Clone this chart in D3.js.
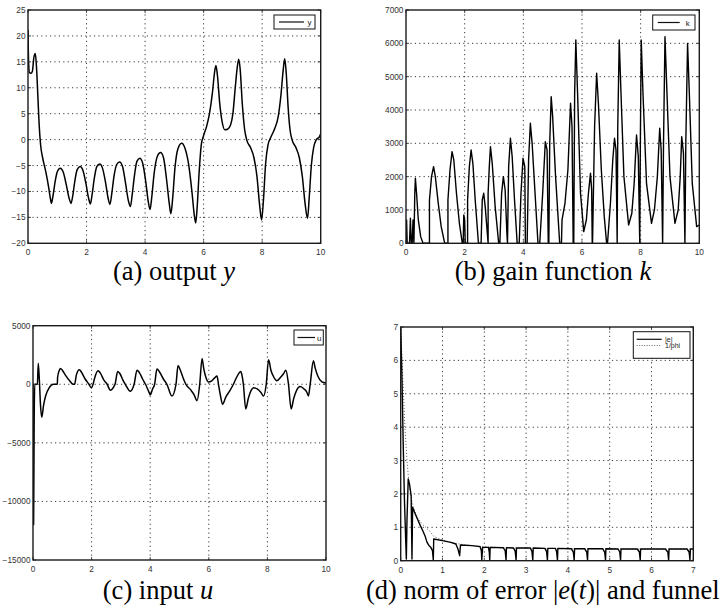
<!DOCTYPE html>
<html><head><meta charset="utf-8">
<script src="https://cdn.jsdelivr.net/npm/d3@7"></script>
<style>
body{margin:0;background:#fff;}
svg{display:block;}
.tick-lbl{font-family:"Liberation Sans",Arial,sans-serif;font-size:8.3px;fill:#333;}
.cap{font-family:"Liberation Serif","Times New Roman",serif;font-size:26.5px;fill:#000;}
.leg{font-family:"Liberation Sans",Arial,sans-serif;font-size:8px;fill:#222;}
.leg-sm{font-family:"Liberation Sans",Arial,sans-serif;font-size:7px;fill:#222;}
</style>
</head><body>
<script>
// ---------- DATA ----------
const xTicksA = [0,2,4,6,8,10];
const yTicksA = [-20,-15,-10,-5,0,5,10,15,20,25];
const yTicksB = [0,1000,2000,3000,4000,5000,6000,7000];
const yTicksC = [-15000,-10000,-5000,0,5000];
const xTicksD = [0,1,2,3,4,5,6,7];
const yTicksD = [0,1,2,3,4,5,6,7];

// (a) output y : [t, y]
const outputY = [[0,21.2],[0.02,15],[0.05,12.9],[0.1,12.8],[0.15,13.2],[0.2,15.8],[0.25,16.6],[0.29,14],[0.34,8],[0.38,3],[0.43,-1],[0.5,-3.5],[0.6,-6],[0.7,-9],[0.76,-11.2],[0.8,-12.3],[0.85,-11],[0.93,-8],[1.0,-6.2],[1.1,-5.5],[1.2,-6.2],[1.3,-8.5],[1.4,-11.2],[1.47,-12.3],[1.53,-10.8],[1.6,-8],[1.68,-5.8],[1.78,-5.2],[1.88,-6],[1.98,-8.5],[2.07,-11.3],[2.13,-12.4],[2.19,-10.6],[2.27,-7.3],[2.35,-5.2],[2.45,-4.7],[2.55,-5.6],[2.65,-8.3],[2.74,-11.4],[2.8,-12.5],[2.86,-10.5],[2.94,-7],[3.03,-4.8],[3.13,-4.3],[3.23,-5.2],[3.33,-8.3],[3.43,-11.8],[3.5,-12.9],[3.56,-10.6],[3.64,-6.8],[3.72,-4.2],[3.82,-3.6],[3.92,-4.6],[4.02,-8],[4.11,-12],[4.17,-13.5],[4.23,-11],[4.31,-6.5],[4.42,-3.2],[4.53,-2.5],[4.63,-3.5],[4.73,-7.5],[4.83,-12.5],[4.88,-14.3],[4.94,-11.5],[5.02,-5.5],[5.12,-1.8],[5.25,-0.7],[5.36,-1.6],[5.48,-4.5],[5.6,-10],[5.68,-14.5],[5.73,-16.1],[5.78,-13],[5.85,-6],[5.92,-1],[6.0,0.8],[6.1,2.5],[6.2,5],[6.3,9],[6.37,12.8],[6.42,14.3],[6.47,12.5],[6.55,7],[6.63,3.5],[6.72,1.9],[6.82,2],[6.92,2.8],[7.0,5],[7.08,10],[7.15,14],[7.2,15.5],[7.25,13.5],[7.32,7],[7.4,2],[7.48,-0.2],[7.6,-1.5],[7.72,-3.5],[7.82,-7],[7.92,-13],[7.98,-15.5],[8.04,-12],[8.12,-4.5],[8.2,-1],[8.3,0.5],[8.42,2],[8.55,4.5],[8.64,8.5],[8.72,13.5],[8.77,15.6],[8.82,13],[8.89,6],[8.95,2],[9.02,0],[9.15,-1.5],[9.27,-3.5],[9.37,-7],[9.47,-12.5],[9.55,-15.2],[9.61,-11],[9.68,-5],[9.76,-1.5],[9.85,0],[9.95,0.5],[10,1.1]];

// (b) gain function k : [t, k]
const gainK = [[0,0],[0.02,700],[0.04,0],[0.12,0],[0.15,750],[0.18,0],[0.21,0],[0.24,700],[0.27,0],[0.3,1500],[0.32,1950],[0.36,1500],[0.42,700],[0.5,200],[0.58,0],[0.8,0],[0.8,1300],[0.87,2000],[0.94,2300],[1.0,2000],[1.1,1200],[1.2,500],[1.32,0],[1.43,0],[1.43,1300],[1.5,2200],[1.57,2750],[1.63,2500],[1.72,1500],[1.82,600],[1.92,0],[1.95,0],[1.97,850],[2.0,700],[2.02,0],[2.1,0],[2.1,1300],[2.16,2300],[2.22,2800],[2.28,2400],[2.36,1300],[2.47,0],[2.56,0],[2.6,1300],[2.65,1500],[2.7,1100],[2.8,0],[2.8,1500],[2.84,2300],[2.88,2900],[2.94,2400],[3.04,1100],[3.16,0],[3.2,0],[3.26,1500],[3.32,2000],[3.38,1600],[3.44,300],[3.46,0],[3.5,2300],[3.56,3150],[3.62,2600],[3.7,1300],[3.79,0],[3.86,0],[3.92,1500],[3.99,2550],[4.05,2300],[4.07,0],[4.13,0],[4.18,2500],[4.24,3600],[4.3,3000],[4.4,1500],[4.5,0],[4.56,0],[4.66,1500],[4.75,3050],[4.81,2800],[4.85,0],[4.87,0],[4.9,3000],[4.95,4400],[5.0,3800],[5.1,2000],[5.24,0],[5.3,0],[5.32,700],[5.42,1200],[5.52,2200],[5.61,4200],[5.66,3500],[5.7,0],[5.72,0],[5.75,4500],[5.79,6100],[5.85,4500],[5.95,1500],[6.06,350],[6.15,700],[6.22,1500],[6.29,2100],[6.33,1600],[6.35,0],[6.36,0],[6.43,3500],[6.5,5100],[6.56,4200],[6.66,2200],[6.76,800],[6.84,0],[6.87,0],[6.97,1200],[7.05,2500],[7.11,3150],[7.16,2800],[7.2,0],[7.22,3500],[7.27,6100],[7.33,4500],[7.43,2000],[7.59,550],[7.7,900],[7.78,1800],[7.86,3250],[7.92,2600],[7.97,0],[7.99,3000],[8.02,6100],[8.08,4500],[8.2,1800],[8.37,600],[8.47,1000],[8.57,2000],[8.65,3450],[8.7,2800],[8.75,0],[8.78,3000],[8.83,6200],[8.89,4700],[9.0,2000],[9.17,600],[9.28,1000],[9.35,2000],[9.4,3200],[9.46,2700],[9.51,0],[9.54,3000],[9.6,6000],[9.66,4500],[9.76,1800],[9.91,500],[10,550]];

// (c) input u : [t, u]
const inputU = [[0,0],[0.02,-12000],[0.04,-3000],[0.06,0],[0.15,0],[0.18,1800],[0.22,200],[0.25,-1500],[0.3,-2800],[0.36,-1800],[0.43,-1000],[0.55,-300],[0.7,0],[0.83,0],[0.84,600],[0.9,1200],[0.94,1350],[1.0,1200],[1.1,800],[1.25,300],[1.37,0],[1.42,0],[1.48,800],[1.58,1250],[1.65,1050],[1.78,450],[1.91,0],[1.99,-300],[2.05,0],[2.1,500],[2.22,1150],[2.3,950],[2.42,350],[2.53,0],[2.64,-500],[2.76,-200],[2.8,0],[2.89,1100],[2.97,900],[3.06,400],[3.15,0],[3.32,-600],[3.45,0],[3.55,1200],[3.63,1000],[3.74,450],[3.84,0],[3.98,-800],[4.0,-900],[4.08,-400],[4.15,0],[4.23,1300],[4.32,1050],[4.45,450],[4.57,0],[4.74,-1000],[4.88,0],[4.95,1600],[5.03,1200],[5.13,500],[5.22,0],[5.39,-500],[5.5,-900],[5.6,-1400],[5.69,0],[5.77,2200],[5.83,1300],[5.9,600],[5.99,200],[6.1,300],[6.2,550],[6.28,700],[6.33,0],[6.4,-1000],[6.47,-1700],[6.58,-1100],[6.73,-500],[6.84,0],[6.95,600],[7.09,1100],[7.13,800],[7.18,0],[7.26,-2100],[7.35,-1200],[7.45,-500],[7.53,-300],[7.65,-400],[7.78,-700],[7.87,-1000],[7.96,0],[8.04,2100],[8.12,1200],[8.22,600],[8.32,300],[8.45,600],[8.55,900],[8.63,1200],[8.72,0],[8.81,-2100],[8.9,-1200],[9.0,-500],[9.12,-200],[9.25,-400],[9.35,-700],[9.4,-1000],[9.46,0],[9.57,2000],[9.63,1400],[9.72,700],[9.86,200],[10,100]];

// (d) norm of error |e| and funnel 1/phi : [t, value]
const errNorm = [[0,7],[0.03,5.5],[0.06,3.5],[0.09,1.8],[0.12,0.6],[0.135,0.05],[0.15,1.2],[0.18,2.45],[0.21,2.3],[0.25,1.95],[0.27,0.05],[0.285,1.6],[0.33,1.45],[0.4,1.25],[0.47,1.05],[0.52,0.92],[0.58,0.75],[0.63,0.55],[0.68,0.45],[0.72,0.4],[0.76,0.3],[0.78,0.02],[0.79,0.65],[1.0,0.6],[1.2,0.55],[1.32,0.5],[1.37,0.35],[1.41,0.15],[1.43,0.47],[1.7,0.45],[1.9,0.42],[1.93,0.3],[1.94,0.02],[1.96,0.4],[2.1,0.4],[2.12,0.25],[2.13,0.02],[2.14,0.4],[2.45,0.39],[2.5,0.3],[2.52,0.02],[2.53,0.39],[2.7,0.38],[2.74,0.28],[2.76,0.02],[2.77,0.38],[3.1,0.38],[3.14,0.28],[3.16,0.02],[3.17,0.38],[3.45,0.37],[3.49,0.27],[3.51,0.02],[3.52,0.37],[3.7,0.37],[3.73,0.27],[3.75,0.02],[3.76,0.37],[4.08,0.36],[4.13,0.26],[4.15,0.02],[4.16,0.36],[4.4,0.36],[4.45,0.26],[4.47,0.02],[4.48,0.36],[4.83,0.36],[4.88,0.26],[4.9,0.02],[4.91,0.36],[5.2,0.35],[5.24,0.26],[5.26,0.02],[5.27,0.35],[5.66,0.35],[5.71,0.26],[5.73,0.02],[5.74,0.35],[6.33,0.35],[6.39,0.26],[6.41,0.02],[6.42,0.35],[6.85,0.35],[6.9,0.26],[6.92,0.02],[6.93,0.35],[7,0.35]];
const funnel = [[0,7],[0.05,5.5],[0.1,4],[0.15,3],[0.2,2.3],[0.25,1.9],[0.3,1.6],[0.4,1.3],[0.5,1.12],[0.6,1.0],[0.7,0.88],[0.8,0.72],[1,0.62],[1.25,0.53],[1.5,0.48],[2,0.42],[2.5,0.39],[3,0.375],[4,0.36],[5,0.355],[6,0.35],[7,0.35]];

// ---------- DRAW ----------
const W = 723, H = 610;
const svg = d3.select("body").append("svg").attr("width", W).attr("height", H);
const fmt = d => (d < 0 ? "\u2212" + Math.abs(d) : String(d));

function panel(cfg) {
  const x = d3.scaleLinear().domain(cfg.xDomain).range([cfg.x0, cfg.x1]);
  const y = d3.scaleLinear().domain(cfg.yDomain).range([cfg.y1, cfg.y0]);
  const g = svg.append("g");
  const id = "clip" + cfg.id;
  svg.append("clipPath").attr("id", id).append("rect")
    .attr("x", cfg.x0).attr("y", cfg.y0).attr("width", cfg.x1 - cfg.x0).attr("height", cfg.y1 - cfg.y0);

  // grid
  const grid = g.append("g").attr("stroke", "#222").attr("stroke-width", 0.9).attr("stroke-dasharray", "1.2,3.2");
  cfg.xTicks.slice(1, -1).forEach(t => grid.append("line").attr("x1", x(t)).attr("x2", x(t)).attr("y1", cfg.y0).attr("y2", cfg.y1));
  cfg.yTicks.slice(1, -1).forEach(t => grid.append("line").attr("y1", y(t)).attr("y2", y(t)).attr("x1", cfg.x0).attr("x2", cfg.x1));

  // series
  const lg = g.append("g").attr("clip-path", `url(#${id})`);
  cfg.series.forEach(s => {
    const line = d3.line().x(d => x(d[0])).y(d => y(d[1])).curve(s.curve || d3.curveLinear);
    lg.append("path").attr("d", line(s.data)).attr("fill", "none")
      .attr("stroke", s.color || "#000").attr("stroke-width", s.width || 1.4)
      .attr("stroke-dasharray", s.dash || null).attr("stroke-linejoin", "round");
  });

  // ticks (inner)
  const tk = g.append("g").attr("stroke", "#222").attr("stroke-width", 0.8);
  cfg.xTicks.forEach(t => {
    tk.append("line").attr("x1", x(t)).attr("x2", x(t)).attr("y1", cfg.y1).attr("y2", cfg.y1 - 3);
    tk.append("line").attr("x1", x(t)).attr("x2", x(t)).attr("y1", cfg.y0).attr("y2", cfg.y0 + 3);
  });
  cfg.yTicks.forEach(t => {
    tk.append("line").attr("y1", y(t)).attr("y2", y(t)).attr("x1", cfg.x0).attr("x2", cfg.x0 + 3);
    tk.append("line").attr("y1", y(t)).attr("y2", y(t)).attr("x1", cfg.x1).attr("x2", cfg.x1 - 3);
  });

  // frame
  g.append("rect").attr("x", cfg.x0).attr("y", cfg.y0).attr("width", cfg.x1 - cfg.x0).attr("height", cfg.y1 - cfg.y0)
    .attr("fill", "none").attr("stroke", "#1a1a1a").attr("stroke-width", 1.4);

  // tick labels
  cfg.xTicks.forEach(t => g.append("text").attr("class", "tick-lbl").attr("x", x(t)).attr("y", cfg.y1 + 12)
    .attr("text-anchor", "middle").text(fmt(t)));
  cfg.yTicks.forEach(t => g.append("text").attr("class", "tick-lbl").attr("x", cfg.x0 - 2.5).attr("y", y(t) + 3)
    .attr("text-anchor", "end").text(fmt(t)));

  // legend
  const L = cfg.legend;
  g.append("rect").attr("x", L.x).attr("y", L.y).attr("width", L.w).attr("height", L.h)
    .attr("fill", "#fff").attr("stroke", "#111").attr("stroke-width", 1);
  L.items.forEach((it, i) => {
    const yy = L.y + L.firstY + i * L.step;
    g.append("line").attr("x1", L.x + L.lx0).attr("x2", L.x + L.lx1).attr("y1", yy).attr("y2", yy)
      .attr("stroke", it.dash ? "#666" : "#111").attr("stroke-width", it.dash ? 1 : 1.2).attr("stroke-dasharray", it.dash || null);
    g.append("text").attr("class", L.cls || "leg").attr("x", L.x + L.tx).attr("y", yy + (L.dy || 3)).text(it.label);
  });

  // caption
  const cap = svg.append("text").attr("class", "cap").attr("x", cfg.cap.x).attr("y", cfg.cap.y)
    .attr("text-anchor", cfg.cap.anchor || "middle");
  cfg.cap.parts.forEach(p => cap.append("tspan").attr("font-style", p.i ? "italic" : null).text(p.t));
}

panel({
  id: "a", x0: 28, x1: 320.7, y0: 10, y1: 243.3, xDomain: [0, 10], yDomain: [-20, 25],
  xTicks: xTicksA, yTicks: yTicksA,
  series: [{ data: outputY, curve: d3.curveMonotoneX, width: 1.5 }],
  legend: { x: 274, y: 15, w: 41, h: 14, firstY: 7, step: 0, lx0: 5, lx1: 30, tx: 33.5, items: [{ label: "y" }] },
  cap: { x: 174, y: 280, parts: [{ t: "(a) output " }, { t: "y", i: true }] }
});

panel({
  id: "b", x0: 406, x1: 699.3, y0: 10, y1: 243.3, xDomain: [0, 10], yDomain: [0, 7000],
  xTicks: xTicksA, yTicks: yTicksB,
  series: [{ data: gainK, width: 1.4 }],
  legend: { x: 652.7, y: 15, w: 42.3, h: 15, firstY: 7.5, step: 0, lx0: 5, lx1: 27, tx: 33, items: [{ label: "k" }] },
  cap: { x: 553, y: 280, parts: [{ t: "(b) gain function " }, { t: "k", i: true }] }
});

panel({
  id: "c", x0: 33, x1: 326, y0: 325.7, y1: 560, xDomain: [0, 10], yDomain: [-15000, 5000],
  xTicks: xTicksA, yTicks: yTicksC,
  series: [{ data: inputU, curve: d3.curveMonotoneX, width: 1.5 }],
  legend: { x: 294, y: 330, w: 29.3, h: 15, firstY: 7.5, step: 0, lx0: 3.5, lx1: 21, tx: 23, items: [{ label: "u" }] },
  cap: { x: 158, y: 599, parts: [{ t: "(c) input " }, { t: "u", i: true }] }
});

panel({
  id: "d", x0: 400.7, x1: 693.3, y0: 327, y1: 560.7, xDomain: [0, 7], yDomain: [0, 7],
  xTicks: xTicksD, yTicks: yTicksD,
  series: [{ data: funnel, width: 1, dash: "1,2", color: "#555" }, { data: errNorm, width: 1.4 }],
  legend: { x: 633.3, y: 331.7, w: 56.7, h: 26.6, firstY: 7.6, step: 6.2, lx0: 3.4, lx1: 28.4, tx: 31.7, cls: "leg-sm", dy: 2.5,
    items: [{ label: "|e|" }, { label: "1/phi", dash: "1,1.5" }] },
  cap: { x: 366, y: 599, anchor: "start", parts: [{ t: "(d) norm of error |" }, { t: "e", i: true }, { t: "(" }, { t: "t", i: true }, { t: ")| and funnel" }] }
});
</script>
</body></html>
